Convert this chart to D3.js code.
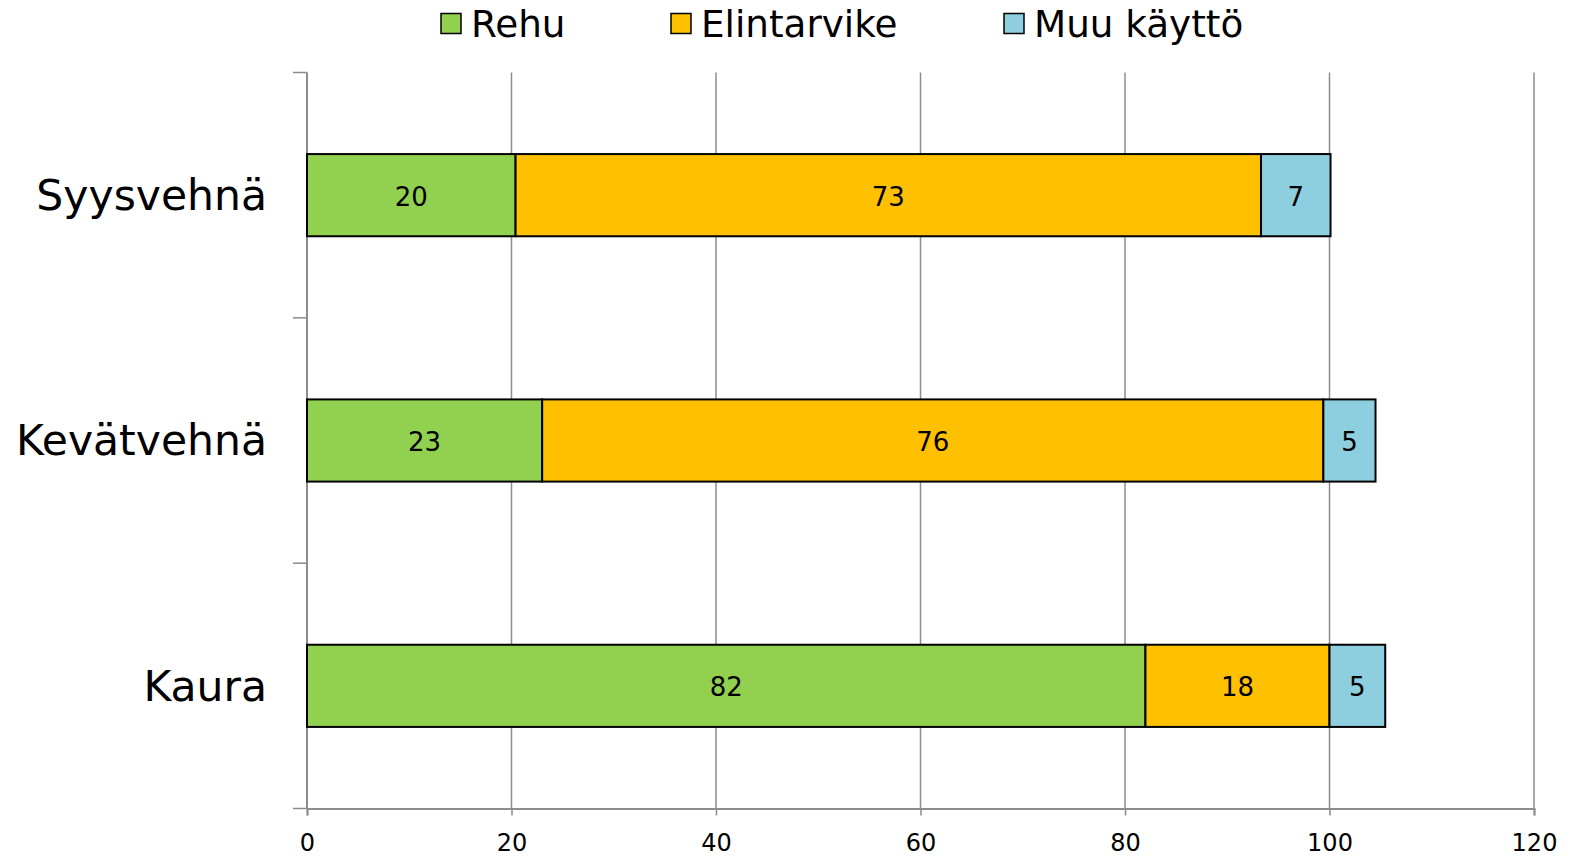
<!DOCTYPE html>
<html>
<head>
<meta charset="utf-8">
<script src="https://cdn.jsdelivr.net/npm/d3@7"></script>
<style>
  body { margin: 0; background: #fff; }
  svg { font-family: 'DejaVu Sans', Verdana, sans-serif; }
</style>
</head>
<body>
<svg width="1570" height="857"></svg>
<script>
const categories = ['Syysvehnä', 'Kevätvehnä', 'Kaura'];
const seriesNames = ['Rehu', 'Elintarvike', 'Muu käyttö'];
const rehu = [20.4, 23.0, 82.0];
const elintarvike = [72.9, 76.4, 18.0];
const muuKaytto = [6.8, 5.1, 5.45];
const xTicks = [0, 20, 40, 60, 80, 100, 120];
const colors = ['#92D050', '#FFC000', '#8ECFDF'];

const svg = d3.select('svg');
const margin = {top: 72.5, right: 36, bottom: 48.5, left: 307};
const width = +svg.attr('width') - margin.left - margin.right;
const height = +svg.attr('height') - margin.top - margin.bottom;

const g = svg.append('g').attr('transform', 'translate(' + margin.left + ',' + margin.top + ')');

const x = d3.scaleLinear().domain([0, 120]).range([0, width]);
const y = d3.scaleBand().domain(categories).range([0, height]).padding(0);

// build stacked rows
const rows = categories.map((c, i) => ({cat: c, Rehu: rehu[i], Elintarvike: elintarvike[i], 'Muu käyttö': muuKaytto[i]}));
const stack = d3.stack().keys(seriesNames)(rows);

// gridlines
g.append('g')
  .selectAll('line')
  .data(xTicks.slice(1))
  .enter().append('line')
  .attr('x1', d => x(d)).attr('x2', d => x(d))
  .attr('y1', 0).attr('y2', height)
  .attr('stroke', '#8c8c8c')
  .attr('stroke-width', 1.5);

// x axis
const xAxis = g.append('g')
  .attr('transform', 'translate(0,' + height + ')')
  .call(d3.axisBottom(x).tickValues(xTicks).tickSize(7).tickPadding(18.5));
xAxis.select('.domain').attr('stroke', '#8c8c8c').attr('stroke-width', 2);
xAxis.selectAll('.tick line').attr('stroke', '#8c8c8c').attr('stroke-width', 1.5);
xAxis.selectAll('.tick text').attr('font-size', 24).attr('fill', '#000')
  .style('font-family', "'DejaVu Sans', Verdana, sans-serif");

// y axis: ticks at band boundaries
const yAxis = g.append('g');
yAxis.append('line')
  .attr('x1', 0).attr('x2', 0).attr('y1', 0).attr('y2', height)
  .attr('stroke', '#8c8c8c').attr('stroke-width', 2);
const bounds = categories.map(c => y(c)).concat([height]);
yAxis.selectAll('.ytick')
  .data(bounds)
  .enter().append('line')
  .attr('class', 'ytick')
  .attr('x1', -14).attr('x2', 0)
  .attr('y1', d => d).attr('y2', d => d)
  .attr('stroke', '#8c8c8c').attr('stroke-width', 1.5);
yAxis.selectAll('.ylabel')
  .data(categories)
  .enter().append('text')
  .attr('class', 'ylabel')
  .attr('x', -40)
  .attr('y', d => y(d) + y.bandwidth() / 2)
  .attr('dy', '0.35em')
  .attr('text-anchor', 'end')
  .attr('font-size', 42.5)
  .text(d => d);

// bars
const barH = y.bandwidth() * 0.335;
const layer = g.selectAll('.layer')
  .data(stack)
  .enter().append('g')
  .attr('class', 'layer')
  .attr('fill', (d, i) => colors[i]);

layer.selectAll('rect')
  .data(d => d)
  .enter().append('rect')
  .attr('x', d => x(d[0]))
  .attr('width', d => x(d[1]) - x(d[0]))
  .attr('y', d => y(d.data.cat) + (y.bandwidth() - barH) / 2)
  .attr('height', barH)
  .attr('stroke', '#000')
  .attr('stroke-width', 2);

layer.selectAll('text')
  .data(d => d)
  .enter().append('text')
  .attr('x', d => (x(d[0]) + x(d[1])) / 2)
  .attr('y', d => y(d.data.cat) + y.bandwidth() / 2 + 1)
  .attr('dy', '0.36em')
  .attr('text-anchor', 'middle')
  .attr('font-size', 26)
  .attr('fill', '#000')
  .text(d => Math.round(d[1] - d[0]));

// legend
const legendX = [441, 671, 1004];
const legend = svg.append('g');
seriesNames.forEach((s, i) => {
  legend.append('rect')
    .attr('x', legendX[i]).attr('y', 13.5)
    .attr('width', 20).attr('height', 20)
    .attr('fill', colors[i])
    .attr('stroke', '#000').attr('stroke-width', 1.5);
  legend.append('text')
    .attr('x', legendX[i] + 30).attr('y', 36.5)
    .attr('font-size', 37.3)
    .text(s);
});
</script>
</body>
</html>
